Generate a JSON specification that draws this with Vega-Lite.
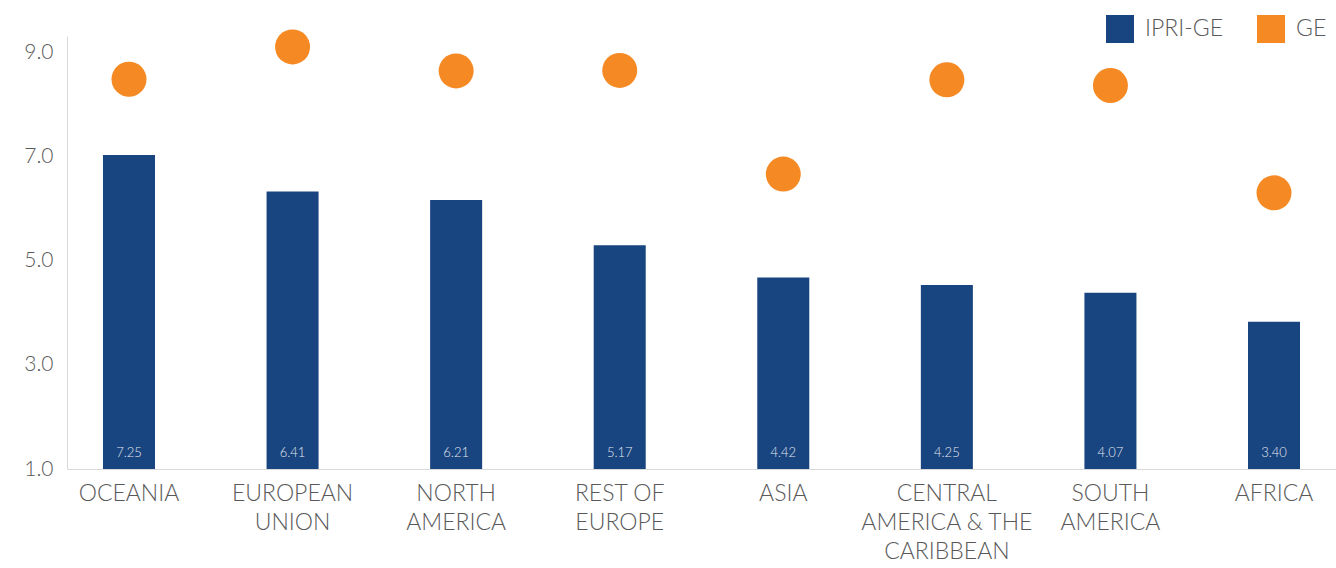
{
  "$schema": "https://vega.github.io/schema/vega-lite/v6.json",
  "width": 1269,
  "height": 433,
  "autosize": {"type": "none"},
  "padding": {"left": 67, "top": 36, "right": 0, "bottom": 99},
  "config": {"view": {"stroke": null}, "font": "Lato"},
  "data": {
    "values": [
      {"region": "OCEANIA", "ipri": 7.25, "ge": 8.48},
      {"region": "EUROPEAN UNION", "ipri": 6.41, "ge": 9.10},
      {"region": "NORTH AMERICA", "ipri": 6.21, "ge": 8.64},
      {"region": "REST OF EUROPE", "ipri": 5.17, "ge": 8.65},
      {"region": "ASIA", "ipri": 4.42, "ge": 6.66},
      {"region": "CENTRAL AMERICA & THE CARIBBEAN", "ipri": 4.25, "ge": 8.47},
      {"region": "SOUTH AMERICA", "ipri": 4.07, "ge": 8.36},
      {"region": "AFRICA", "ipri": 3.40, "ge": 6.30}
    ]
  },
  "encoding": {
    "x": {
      "field": "region",
      "type": "nominal",
      "sort": null,
      "scale": {"paddingInner": 0.682, "paddingOuter": 0.22},
      "axis": {
        "title": null,
        "labelAngle": 0,
        "ticks": false,
        "domainColor": "#d9d9d9",
        "labelFontSize": 23,
        "labelFontWeight": 300,
        "labelColor": "#595959",
        "labelLineHeight": 29,
        "labelPadding": 13,
        "labelLimit": 0,
        "labelExpr": "datum.value == 'EUROPEAN UNION' ? ['EUROPEAN', 'UNION'] : datum.value == 'NORTH AMERICA' ? ['NORTH', 'AMERICA'] : datum.value == 'REST OF EUROPE' ? ['REST OF', 'EUROPE'] : datum.value == 'CENTRAL AMERICA & THE CARIBBEAN' ? ['CENTRAL', 'AMERICA & THE', 'CARIBBEAN'] : datum.value == 'SOUTH AMERICA' ? ['SOUTH', 'AMERICA'] : datum.value"
      }
    }
  },
  "layer": [
    {
      "layer": [
        {
          "mark": {"type": "bar"},
          "encoding": {
            "y": {
              "field": "ipri",
              "type": "quantitative",
              "scale": {"domain": [0, 10], "nice": false, "zero": true},
              "axis": null
            },
            "color": {
              "datum": "IPRI-GE",
              "type": "nominal",
              "scale": {"domain": ["IPRI-GE", "GE"], "range": ["#184480", "#F58A24"]},
              "legend": {
                "title": null,
                "orient": "none",
                "direction": "horizontal",
                "legendX": 1039,
                "legendY": -21,
                "symbolType": "square",
                "symbolSize": 784,
                "symbolStrokeWidth": 0,
                "labelFontSize": 23,
                "labelFontWeight": 300,
                "labelColor": "#595959",
                "labelOffset": 11,
                "columnPadding": 34
              }
            }
          }
        },
        {
          "mark": {"type": "text", "color": "#e4e8ee", "fontSize": 13, "fontWeight": 300, "baseline": "alphabetic", "dy": -12},
          "encoding": {
            "y": {"datum": 0, "type": "quantitative"},
            "text": {"field": "ipri", "type": "quantitative", "format": ".2f"}
          }
        }
      ]
    },
    {
      "mark": {"type": "point", "filled": true, "size": 1225, "opacity": 1, "shape": "circle"},
      "encoding": {
        "y": {
          "field": "ge",
          "type": "quantitative",
          "scale": {"domain": [1, 9.31], "nice": false, "zero": false},
          "axis": {
            "orient": "left",
            "title": null,
            "values": [1, 3, 5, 7, 9],
            "format": ".1f",
            "grid": false,
            "ticks": false,
            "domainColor": "#d9d9d9",
            "labelFontSize": 21,
            "labelFontWeight": 300,
            "labelColor": "#595959",
            "labelPadding": 14
          }
        },
        "color": {"datum": "GE", "type": "nominal"}
      }
    }
  ],
  "resolve": {"scale": {"y": "independent"}}
}
